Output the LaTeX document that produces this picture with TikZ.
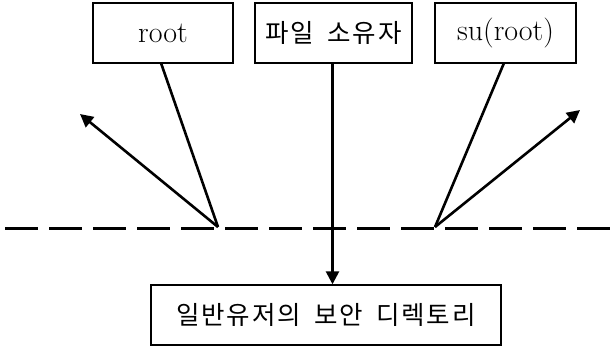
\documentclass[tikz,border=0pt]{standalone}
\usepackage{fontspec}
\newfontfamily\kr[LetterSpace=7,WordSpace=1.8]{Noto Sans CJK KR}
\usetikzlibrary{arrows.meta}
\tikzset{
  box/.style={draw, line width=1.4pt, minimum height=60pt, inner sep=0pt, font=\fontsize{30}{34}\selectfont},
  krbox/.style={box, font=\kr\fontsize{25.5}{30}\selectfont},
  conn/.style={line width=2.6pt},
  arr/.style={line width=2.6pt, -{Triangle[length=13pt,width=13pt]}},
}
\begin{document}
\begin{tikzpicture}[x=1pt,y=-1pt]
\useasboundingbox (0,0) rectangle (613,349);
\node[box, minimum width=140pt] (root) at (163,33) {root};
\node[krbox, minimum width=157pt] (own) at (333.5,33) {파일 소유자};
\node[box, minimum width=141pt] (su) at (505.5,33) {su(root)};
\node[krbox, minimum width=350pt] (bot) at (326,315) {일반유저의 보안 디렉토리};
\coordinate (rs) at (161,63);
\coordinate (ss) at (504,63);
\coordinate (vL) at (218,227);
\coordinate (vR) at (435,227);
\coordinate (aL) at (80,114);
\coordinate (aR) at (580,110);
\coordinate (dl) at (5,228);
\coordinate (dr) at (613,228);
\draw[line width=3pt, dash pattern=on 33pt off 11pt] (dl) -- (dr);
\draw[conn] (rs) -- (vL);
\draw[arr] (vL) -- (aL);
\draw[conn] (ss) -- (vR);
\draw[arr] (vR) -- (aR);
\draw[arr] (own.south -| 332.5,0) -- (bot.north -| 332.5,0);
\end{tikzpicture}
\end{document}
